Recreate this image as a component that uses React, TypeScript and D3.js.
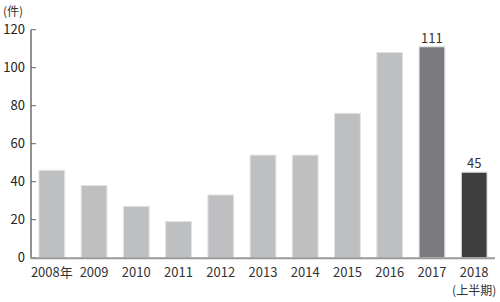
import React from "react";
import * as d3 from "d3";

const categories = ["2008年", "2009", "2010", "2011", "2012", "2013", "2014", "2015", "2016", "2017", "2018"];
const subLabels = ["", "", "", "", "", "", "", "", "", "", "(上半期)"];
const values = [46, 38, 27, 19, 33, 54, 54, 76, 108, 111, 45];
const colors = ["#bebfc1", "#bebfc1", "#bebfc1", "#bebfc1", "#bebfc1", "#bebfc1", "#bebfc1", "#bebfc1", "#bebfc1", "#7a7b7e", "#3e3e3f"];
const showValue = [false, false, false, false, false, false, false, false, false, true, true];
const yTicks = [0, 20, 40, 60, 80, 100, 120];
const unitLabel = "(件)";

const W = 500;
const H = 302;
const FONT = "'Noto Sans CJK JP', 'Noto Sans', sans-serif";

export default function App() {
  const x = d3.scaleBand<string>().domain(categories).range([30.5, 495.5]).paddingInner(0.39).paddingOuter(0.2);
  const y = d3.scaleLinear().domain([0, 120]).range([257.7, 29.7]);
  const axisX = 31;
  return (
    <svg width={W} height={H} style={{ position: "absolute", left: 0, top: 0 }} fontFamily={FONT}>
      <text x={3} y={16} fontSize={12} fill="#333">{unitLabel}</text>
      {values.map((v, i) => (
        <rect key={i} x={x(categories[i])} y={y(v)} width={x.bandwidth()} height={y(0) - y(v)}
          fill={colors[i]} stroke="#e2e2e2" strokeWidth={1} />
      ))}
      {values.map((v, i) => showValue[i] ? (
        <text key={"v" + i} x={(x(categories[i]) as number) + x.bandwidth() / 2} y={y(v) - 4}
          textAnchor="middle" fontSize={13} fill="#333">{v}</text>
      ) : null)}
      <line x1={axisX} x2={axisX} y1={y(120)} y2={y(0)} stroke="#555" strokeWidth={1.3} />
      {yTicks.map((t) => (
        <g key={t}>
          <line x1={axisX} x2={axisX + 5} y1={y(t)} y2={y(t)} stroke="#666" strokeWidth={1} />
          <text x={25} y={y(t) + 4.5} textAnchor="end" fontSize={13} fill="#222">{t}</text>
        </g>
      ))}
      <line x1={axisX - 0.5} x2={495} y1={y(0) + 0.5} y2={y(0) + 0.5} stroke="#999" strokeWidth={2} />
      {categories.map((c, i) => (
        <g key={c}>
          <text x={(x(c) as number) + x.bandwidth() / 2} y={277} textAnchor="middle" fontSize={13} fill="#333">{c}</text>
          {subLabels[i] ? (
            <text x={(x(c) as number) + x.bandwidth() / 2} y={295} textAnchor="middle" fontSize={12} fill="#333">{subLabels[i]}</text>
          ) : null}
        </g>
      ))}
    </svg>
  );
}
